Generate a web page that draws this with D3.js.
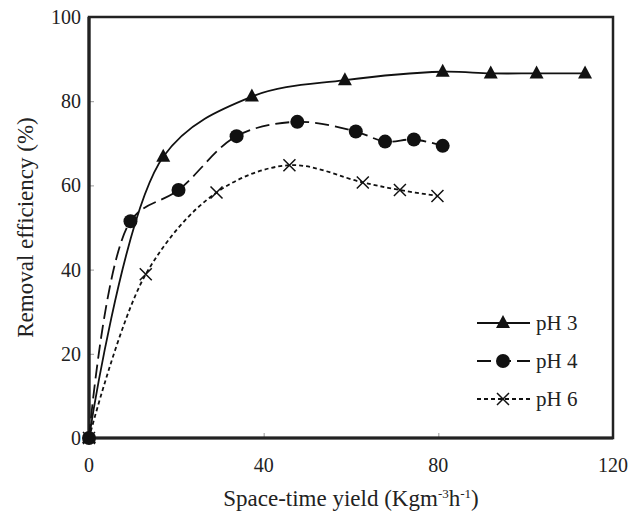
<!DOCTYPE html>
<html>
<head>
<meta charset="utf-8">
<script src="https://cdn.jsdelivr.net/npm/d3@7"></script>
<style>
  body { margin: 0; background: #fff; }
  text { font-family: "Liberation Serif", "Times New Roman", serif; fill: #222; }
</style>
</head>
<body>
<div id="main"></div>
<script>
// data
var xTicks = [0, 40, 80, 120];
var yTicks = [0, 20, 40, 60, 80, 100];

var ph3X = [0, 17, 37.3, 58.6, 81, 92, 102.5, 113.6];
var ph3Y = [0, 66.8, 81.1, 85, 87, 86.6, 86.6, 86.6];

var ph4X = [0, 9.5, 20.5, 33.8, 47.7, 61.1, 67.8, 74.4, 81];
var ph4Y = [0, 51.5, 58.9, 71.7, 75.1, 72.8, 70.4, 70.9, 69.4];

var ph6X = [0, 13, 29.2, 45.9, 62.7, 71.2, 79.8];
var ph6Y = [0, 38.9, 58.3, 64.8, 60.7, 58.9, 57.5];

var seriesNames = ["pH 3", "pH 4", "pH 6"];

var w = 641,
	h = 514;
var margin = {left: 89, right: 28, top: 17, bottom: 76};

var x = d3.scaleLinear().domain([0, 120]).range([margin.left, w - margin.right]);
var y = d3.scaleLinear().domain([0, 100]).range([h - margin.bottom, margin.top]);

var svg = d3.select("#main")
	.append("svg")
	.attr("width", w)
	.attr("height", h);

// inward ticks
svg.append("g")
	.attr("transform", "translate(0," + y(0) + ")")
	.call(d3.axisBottom(x).tickValues(xTicks).tickSizeInner(-5).tickSizeOuter(0).tickFormat(""))
	.call(function(g) {
		g.select(".domain").remove();
		g.selectAll("line").attr("stroke", "#999");
	});
svg.append("g")
	.attr("transform", "translate(" + x(0) + ",0)")
	.call(d3.axisLeft(y).tickValues(yTicks).tickSizeInner(-5).tickSizeOuter(0).tickFormat(""))
	.call(function(g) {
		g.select(".domain").remove();
		g.selectAll("line").attr("stroke", "#999");
	});

// tick labels
svg.selectAll(".xlab")
	.data(xTicks)
	.enter()
	.append("text")
	.attr("x", function(d) { return x(d); })
	.attr("y", y(0) + 34)
	.attr("text-anchor", "middle")
	.style("font-size", "20px")
	.text(function(d) { return d; });

svg.selectAll(".ylab")
	.data(yTicks)
	.enter()
	.append("text")
	.attr("x", x(0) - 8)
	.attr("y", function(d) { return y(d) + 7; })
	.attr("text-anchor", "end")
	.style("font-size", "20px")
	.text(function(d) { return d; });

// frame
svg.append("rect")
	.attr("x", x(0))
	.attr("y", y(100))
	.attr("width", x(120) - x(0))
	.attr("height", y(0) - y(100))
	.attr("fill", "none")
	.attr("stroke", "#222")
	.attr("stroke-width", 2.5);
svg.append("path")
	.attr("d", "M" + x(0) + "," + y(100) + "V" + y(0) + "H" + x(120))
	.attr("fill", "none")
	.attr("stroke", "#222")
	.attr("stroke-width", 3.2);

// axis titles
var xt = svg.append("text")
	.attr("x", (x(0) + x(120)) / 2)
	.attr("y", 506)
	.attr("text-anchor", "middle")
	.style("font-size", "23px");
xt.append("tspan").text("Space-time yield (Kgm");
xt.append("tspan").attr("dy", -8).style("font-size", "13px").text("-3");
xt.append("tspan").attr("dy", 8).text("h");
xt.append("tspan").attr("dy", -8).style("font-size", "13px").text("-1");
xt.append("tspan").attr("dy", 8).text(")");

svg.append("text")
	.attr("transform", "translate(33," + (y(0) + y(100)) / 2 + ") rotate(-90)")
	.attr("text-anchor", "middle")
	.style("font-size", "23px")
	.text("Removal efficiency (%)");

var series = [
	{xs: ph3X, ys: ph3Y, dash: null, marker: "tri"},
	{xs: ph4X, ys: ph4Y, dash: "14,6", marker: "circle"},
	{xs: ph6X, ys: ph6Y, dash: "4,3", marker: "cross"}
];

var line = d3.line()
	.x(function(d) { return x(d[0]); })
	.y(function(d) { return y(d[1]); })
	.curve(d3.curveCatmullRom.alpha(0.5));

function drawMarker(g, type, cx, cy) {
	if (type == "tri") {
		g.append("path")
			.attr("d", "M" + cx + "," + (cy - 8) + "L" + (cx + 7) + "," + (cy + 5) + "L" + (cx - 7) + "," + (cy + 5) + "Z")
			.attr("fill", "#111");
	} else if (type == "circle") {
		g.append("circle").attr("cx", cx).attr("cy", cy).attr("r", 7).attr("fill", "#111");
	} else {
		g.append("path")
			.attr("d", "M" + (cx - 6) + "," + (cy - 6) + "L" + (cx + 6) + "," + (cy + 6) + "M" + (cx + 6) + "," + (cy - 6) + "L" + (cx - 6) + "," + (cy + 6))
			.attr("stroke", "#111")
			.attr("stroke-width", 1.5);
	}
}

series.forEach(function(s) {
	var pts = s.xs.map(function(v, i) { return [v, s.ys[i]]; });
	svg.append("path")
		.attr("d", line(pts))
		.attr("fill", "none")
		.attr("stroke", "#111")
		.attr("stroke-width", 1.8)
		.attr("stroke-dasharray", s.dash);
	var mg = svg.append("g");
	pts.forEach(function(p) { drawMarker(mg, s.marker, x(p[0]), y(p[1])); });
});

// legend
var legY = [323, 361, 399];
series.forEach(function(s, i) {
	svg.append("line")
		.attr("x1", 477).attr("x2", 530)
		.attr("y1", legY[i]).attr("y2", legY[i])
		.attr("stroke", "#111")
		.attr("stroke-width", 1.8)
		.attr("stroke-dasharray", s.dash);
	drawMarker(svg, s.marker, 503, legY[i]);
	svg.append("text")
		.attr("x", 536)
		.attr("y", legY[i] + 7)
		.style("font-size", "21px")
		.text(seriesNames[i]);
});
</script>
</body>
</html>
